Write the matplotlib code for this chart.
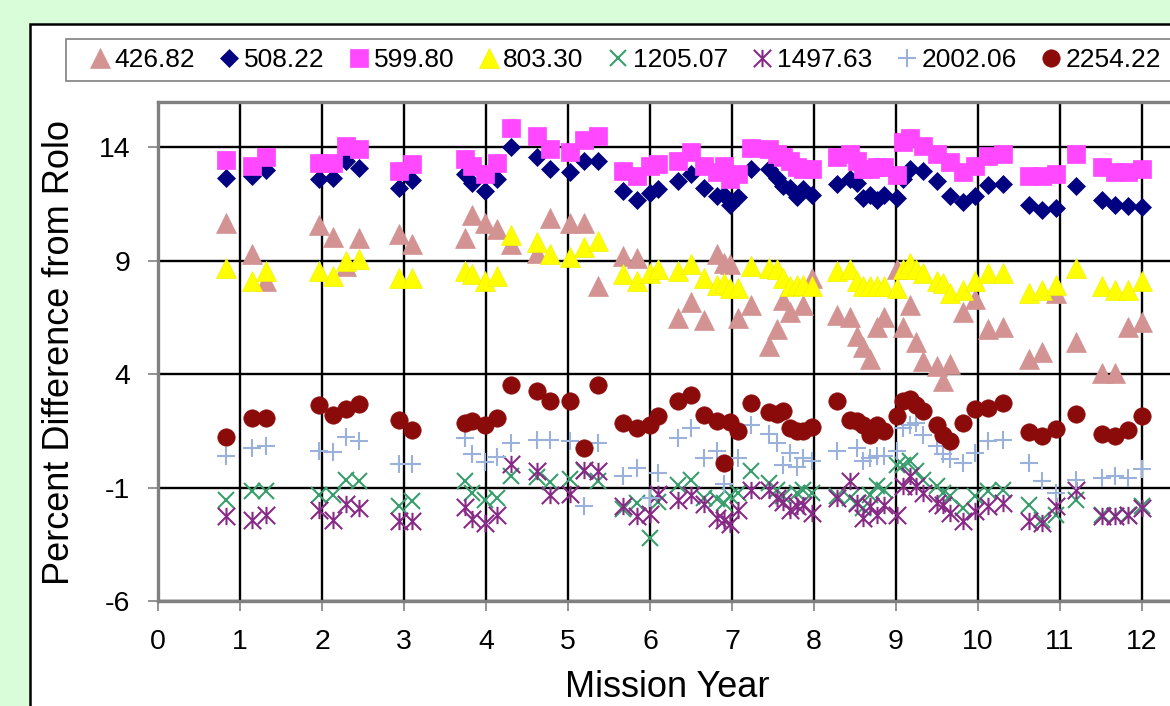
import numpy as np
import matplotlib
matplotlib.use("Agg")
import matplotlib.pyplot as plt
from matplotlib.path import Path
from matplotlib.patches import Rectangle

nan = np.nan

# Observation times (mission year) shared by all bands
mission_year = [0.83, 1.15, 1.32, 1.96, 2.13, 2.29, 2.45, 2.94, 3.10, 3.74,
                3.83, 3.99, 4.13, 4.30, 4.62, 4.78, 5.02, 5.20, 5.37, 5.67,
                5.84, 6.00, 6.10, 6.34, 6.50, 6.66, 6.82, 6.90, 6.98, 7.07,
                7.23, 7.45, 7.55, 7.62, 7.71, 7.79, 7.87, 7.98, 8.28, 8.44,
                8.52, 8.60, 8.68, 8.77, 8.85, 9.01, 9.09, 9.17, 9.24, 9.33,
                9.50, 9.57, 9.66, 9.82, 9.96, 10.12, 10.30, 10.62, 10.78, 10.95,
                11.20, 11.51, 11.67, 11.83, 12.00]

band_426 = [10.65, 9.32, 8.10, 10.56, 10.06, 8.76, 10.01, 10.16, 9.72, 10.01,
            11.04, 10.68, 10.38, 9.72, 9.35, 10.90, 10.68, 10.68, 7.88, 9.20,
            9.13, nan, nan, 6.49, 7.17, 6.38, 9.28, 8.92, 8.84, 6.49,
            7.07, 5.23, 5.97, 7.29, 6.76, nan, 7.07, 8.26, 6.63, 6.50,
            5.67, 5.22, 4.65, 6.10, 6.54, 8.62, 6.10, 7.07, 5.40, 4.56,
            4.34, 3.68, 4.43, 6.72, 7.33, 5.97, 6.10, 4.65, 4.96, 7.60,
            5.44, 4.07, 4.07, 6.06, 6.32]

band_508 = [12.67, 12.72, 12.98, 12.59, 12.63, 13.42, 13.11, 12.23, 12.54, 12.81,
            12.45, 12.06, 12.59, 14.00, 13.56, 13.03, 12.90, 13.38, 13.38, 12.06,
            11.70, 11.97, 12.15, 12.50, 12.81, 12.19, 11.84, 11.88, 11.48, 11.79,
            13.03, 13.03, 12.67, 12.28, 12.19, 11.79, 12.15, 11.92, 12.37, 12.59,
            12.44, 11.75, 11.92, 11.70, 11.88, 11.75, 12.59, 13.03, nan, 12.94,
            12.50, nan, 11.84, 11.60, 11.84, 12.32, 12.37, 11.48, 11.26, 11.31,
            12.28, 11.66, 11.48, 11.40, 11.35]

band_600 = [13.44, 13.17, 13.59, 13.29, 13.32, 14.06, 13.91, 12.95, 13.25, 13.47,
            13.17, 12.81, 13.32, 14.87, 14.50, 13.94, 13.79, 14.32, 14.50, 12.94,
            12.72, 13.16, 13.25, 13.38, 13.78, 13.16, 12.90, 13.16, 12.59, 12.81,
            13.95, 13.91, 13.69, 13.56, 13.38, 13.12, 13.03, 13.03, 13.56, 13.69,
            13.38, 13.03, 13.03, 13.12, 13.12, 12.76, 14.22, 14.40, nan, 14.04,
            13.69, nan, 13.34, 12.90, 13.16, 13.60, 13.69, 12.72, 12.72, 12.81,
            13.69, 13.12, 12.90, 12.90, 13.03]

band_803 = [8.70, 8.13, 8.57, 8.57, 8.35, 9.01, 9.10, 8.22, 8.26, 8.57,
            8.40, 8.13, 8.31, 10.12, 9.81, 9.28, 9.15, 9.59, 9.85, 8.40,
            8.13, 8.48, 8.62, 8.53, 8.84, 8.26, 7.95, 8.00, 7.82, 7.82,
            8.75, 8.66, 8.62, 8.26, 7.87, 7.95, 7.95, 7.87, 8.53, 8.62,
            8.13, 7.87, 7.87, 7.87, 7.87, 7.82, 8.62, 8.92, 8.62, 8.48,
            8.09, 8.02, 7.60, 7.73, 8.09, 8.48, 8.48, 7.60, 7.73, 7.95,
            8.70, 7.87, 7.73, 7.73, 8.09]

band_1205 = [-1.53, -1.16, -1.16, -1.31, -1.31, -0.65, -0.72, -1.82, -1.60, -0.72,
             -1.23, -1.56, -1.45, -0.50, -0.55, -0.75, -0.60, -0.28, -0.70, -1.93,
             -1.70, -3.24, -1.63, -0.90, -0.65, -1.45, -1.50, -1.67, -1.38, -1.23,
             -0.27, -0.79, -1.09, -1.38, nan, -1.23, -1.09, -1.23, -1.38, -1.45,
             -1.67, -1.90, -1.31, -0.94, -1.09, 0.01, 0.01, 0.16, -0.28, -0.65,
             -0.94, -1.23, -1.38, -1.90, -1.38, -1.16, -1.09, -1.75, -2.45, -2.19,
             -1.53, -2.23, -2.27, -2.23, -1.82]

band_1498 = [-2.24, -2.44, -2.19, -1.97, -2.41, -1.71, -1.90, -2.49, -2.49, -1.86,
             -2.38, -2.56, -2.20, 0.03, -0.26, -1.31, -1.29, -0.22, -0.28, -1.82,
             -2.24, -2.15, -1.30, -1.53, -1.31, -1.73, -2.34, -2.41, -2.60, -1.97,
             -1.09, -1.12, -1.45, -1.65, -1.97, -1.79, -1.75, -2.12, -1.45, -0.72,
             -1.67, -2.34, -1.82, -2.19, -1.75, -2.19, -0.94, -0.50, -0.94, -1.23,
             -1.67, -1.75, -2.12, -2.49, -2.05, -1.82, -1.67, -2.49, -2.56, -1.82,
             -1.09, -2.27, -2.27, -2.19, -1.90]

band_2002 = [0.41, 0.75, 0.85, 0.60, 0.56, 1.22, 1.04, 0.06, 0.06, 1.19,
             0.46, 0.12, 0.35, 0.97, 1.12, 1.12, 1.07, -1.82, 0.97, -0.50,
             -0.13, -1.44, -0.35, 1.19, 1.63, 0.31, 0.60, -0.85, nan, 0.31,
             1.78, 1.35, 0.97, 0.00, 0.53, -0.10, 0.31, 0.16, 0.60, nan,
             0.75, 0.16, 0.31, 0.38, 0.38, 0.60, 1.63, 1.78, 1.85, 1.34,
             0.82, 0.46, 0.24, 0.09, 0.53, 1.04, 1.12, 0.09, -0.72, -1.23,
             -0.65, -0.57, -0.50, -0.57, -0.18]

band_2254 = [1.24, 2.07, 2.07, 2.62, 2.18, 2.47, 2.69, 1.97, 1.56, 1.85,
             1.92, 1.78, 2.07, 3.54, 3.25, 2.81, 2.81, 0.75, 3.54, 1.85,
             1.63, 1.78, 2.15, 2.81, 3.10, 2.22, 1.92, 0.09, 1.88, 1.48,
             2.74, 2.32, 2.26, 2.37, 1.63, 1.48, 1.50, 1.68, 2.81, 2.00,
             1.92, 1.78, 1.34, 1.78, 1.48, 2.15, 2.81, 2.91, 2.66, 2.37,
             1.78, 1.34, 1.04, 1.85, 2.47, 2.52, 2.74, 1.44, 1.26, 1.59,
             2.26, 1.38, 1.26, 1.53, 2.15]

band_labels = ["426.82", "508.22", "599.80", "803.30",
               "1205.07", "1497.63", "2002.06", "2254.22"]
x_ticks = list(range(0, 13))
y_ticks = [-6, -1, 4, 9, 14]

# asterisk marker: an X crossed by a vertical stroke
star_path = Path([(-1, -1), (1, 1), (-1, 1), (1, -1), (0, -1), (0, 1)],
                 [Path.MOVETO, Path.LINETO] * 3)

plt.rcParams["font.family"] = ["Liberation Sans", "DejaVu Sans"]
plt.rcParams["axes.unicode_minus"] = False

W, H = 1170, 706
fig = plt.figure(figsize=(W / 100, H / 100), dpi=100, facecolor="#D9FDD9")

# white chart area with a black frame
fig.add_artist(Rectangle((30 / W, -0.05), 1.2, (1 - 24 / H) + 0.05,
                         transform=fig.transFigure, facecolor="white",
                         edgecolor="black", lw=1.8, zorder=0))
# legend box
fig.add_artist(Rectangle((66 / W, 1 - 81 / H), 1.2, 42 / H,
                         transform=fig.transFigure, facecolor="white",
                         edgecolor="#7F7F7F", lw=1.2, zorder=1))

ax = fig.add_axes([158 / W, 105 / H, 13 * 82 / W, (601 - 102) / H])
ax.set_facecolor("white")
ax.set_xlim(0, 13)
ax.set_ylim(-6, 16)
ax.set_xticks(x_ticks)
ax.set_yticks(y_ticks)
ax.grid(True, color="black", lw=1.7)
ax.set_axisbelow(True)
for side in ("left", "bottom", "top"):
    ax.spines[side].set_color("#808080")
    ax.spines[side].set_linewidth(2.4)
ax.spines["right"].set_visible(False)
ax.tick_params(direction="out", length=7, width=1.2, color="#808080",
               labelsize=20.5, pad=13, labelcolor="black")

styles = [
    (band_426, dict(marker="^", ms=14, color="#D39393", mec="#D39393", mew=0.5)),
    (band_508, dict(marker="D", ms=9, color="#000080", mec="#000080", mew=0.5)),
    (band_600, dict(marker="s", ms=12.5, color="#FF48FF", mec="#FF48FF", mew=0.5)),
    (band_803, dict(marker="^", ms=14, color="#FFFF00", mec="#F2F200", mew=0.5)),
    (band_1205, dict(marker="x", ms=12, color="#3A9D6E", mew=1.5)),
    (band_1498, dict(marker=star_path, ms=12.5, color="#862A86", mew=1.5)),
    (band_2002, dict(marker="+", ms=12.5, color="#9AB1DB", mew=1.5)),
    (band_2254, dict(marker="o", ms=12.5, color="#8B0A0A", mec="#8B0A0A", mew=0.5)),
]

handles = []
for (vals, kw), lab in zip(styles, band_labels):
    h, = ax.plot(mission_year, vals, linestyle="none", label=lab,
                 clip_on=True, zorder=3, **kw)
    handles.append(h)

fig.legend(handles, band_labels, ncol=8, loc="center left",
           bbox_to_anchor=(89 / W, 1 - 60 / H), frameon=False, fontsize=19,
           handlelength=0.8, handletextpad=0.15, columnspacing=0.91,
           borderpad=0, borderaxespad=0, numpoints=1)

ax.set_ylabel("Percent Difference from Rolo", fontsize=26)
ax.yaxis.set_label_coords(77 / W, 0.5014, transform=fig.transFigure)
ax.set_xlabel("Mission Year", fontsize=26)
ax.xaxis.set_label_coords(667 / W, 1 - 670 / H, transform=fig.transFigure)

fig.savefig("out.png", dpi=100, facecolor=fig.get_facecolor())
